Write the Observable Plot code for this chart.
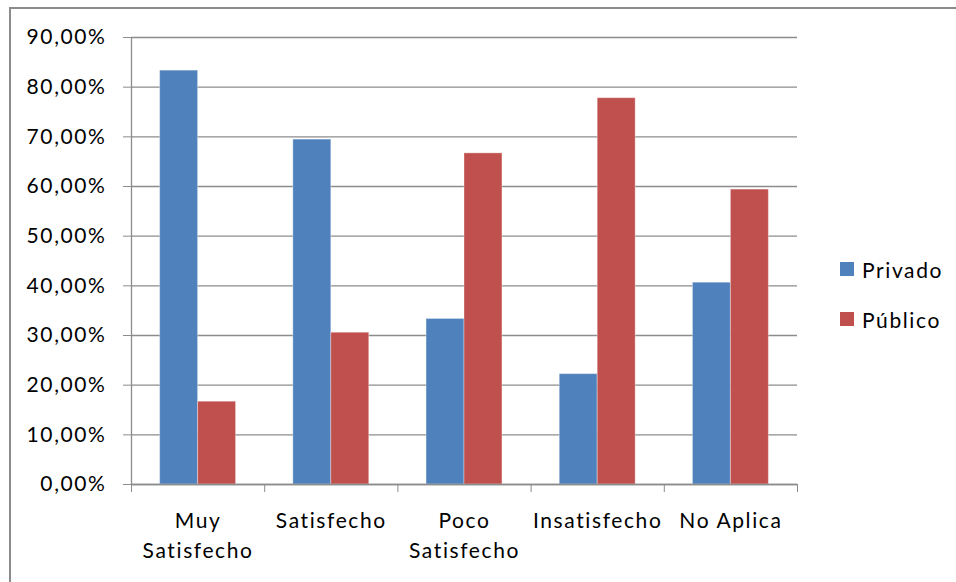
<!DOCTYPE html>
<html>
<head>
<meta charset="utf-8">
<script src="https://cdn.jsdelivr.net/npm/d3@7"></script>
<script src="https://cdn.jsdelivr.net/npm/@observablehq/plot@0.6"></script>
<style>
  html, body { margin: 0; padding: 0; background: #fff; overflow: hidden; }
  #wrap { position: relative; width: 956px; height: 582px; overflow: hidden; font-family: Lato, "Open Sans", sans-serif; }
  #border { position: absolute; left: 9px; top: 7px; width: 1000px; height: 1000px; border: 2px solid #8c8c8c; box-sizing: border-box; pointer-events: none; }
  #legend { position: absolute; left: 840px; top: 244px; font-size: 21px; letter-spacing: 1.6px; color: #000; }
  .item { display: flex; align-items: center; height: 50px; }
  .sw { width: 14px; height: 14px; margin-right: 8px; }
</style>
</head>
<body>
<div id="wrap"><div id="border"></div></div>
<script>
// Satisfacción por tipo de institución
const categories = ["Muy\nSatisfecho", "Satisfecho", "Poco\nSatisfecho", "Insatisfecho", "No Aplica"];
const series = ["Privado", "Público"];
const privado = [83.33, 69.44, 33.33, 22.22, 40.63];
const publico = [16.67, 30.56, 66.67, 77.78, 59.38];
const colors = ["#4F81BD", "#C0504D"];
const yTicks = d3.range(0, 91, 10);

const valuesBySeries = [privado, publico];
const rows = [];
series.forEach((s, si) => {
  categories.forEach((c, ci) => rows.push({category: c, ci, series: s, si, value: valuesBySeries[si][ci]}));
});

// each category occupies one unit on x; the pair of bars fills the middle of it
const groupLeft = 0.215, barW = 0.285;

const chart = Plot.plot({
  width: 956,
  height: 582,
  marginLeft: 131,
  marginRight: 159,
  marginTop: 37,
  marginBottom: 98,
  style: {fontFamily: "Lato, 'Open Sans', sans-serif", fontSize: "21px", color: "#000", letterSpacing: "1.6px"},
  x: {type: "linear", domain: [0, categories.length], axis: null},
  y: {type: "linear", domain: [0, 90], axis: null},
  color: {domain: series, range: colors},
  marks: [
    Plot.gridY(yTicks, {stroke: "#8c8c8c", strokeOpacity: 1, strokeWidth: 1.3}),
    Plot.rectY(rows, {
      x1: d => d.ci + groupLeft + d.si * barW,
      x2: d => d.ci + groupLeft + (d.si + 1) * barW,
      y1: 0,
      y2: "value",
      fill: "series",
      stroke: "#ffffff",
      strokeOpacity: 0.35,
      strokeWidth: 1
    }),
    Plot.ruleX([0], {y1: 0, y2: 90, stroke: "#8c8c8c", strokeWidth: 1.3}),
    Plot.ruleY([0], {stroke: "#8c8c8c", strokeWidth: 1.3}),
    Plot.axisY({
      ticks: yTicks,
      tickSize: 8,
      tickPadding: 17,
      stroke: "#8c8c8c",
      strokeOpacity: 1,
      tickFormat: d => d.toFixed(2).replace(".", ",") + "%",
      label: null,
      fontSize: 21
    }),
    Plot.axisX({
      ticks: d3.range(categories.length + 1),
      tickSize: 8,
      stroke: "#8c8c8c",
      strokeOpacity: 1,
      tickFormat: () => "",
      label: null
    }),
    Plot.text(categories, {
      x: (d, i) => i + 0.5,
      y: 0,
      text: d => d,
      lineAnchor: "top",
      lineHeight: 1.4,
      dy: 23,
      fontSize: 21,
      fill: "#000"
    })
  ]
});

document.getElementById("wrap").prepend(chart);

// legend
const legend = document.createElement("div");
legend.id = "legend";
series.forEach((s, i) => {
  const item = document.createElement("div");
  item.className = "item";
  const sw = document.createElement("div");
  sw.className = "sw";
  sw.style.background = colors[i];
  const label = document.createElement("span");
  label.textContent = s;
  item.append(sw, label);
  legend.append(item);
});
document.getElementById("wrap").append(legend);
</script>
</body>
</html>
